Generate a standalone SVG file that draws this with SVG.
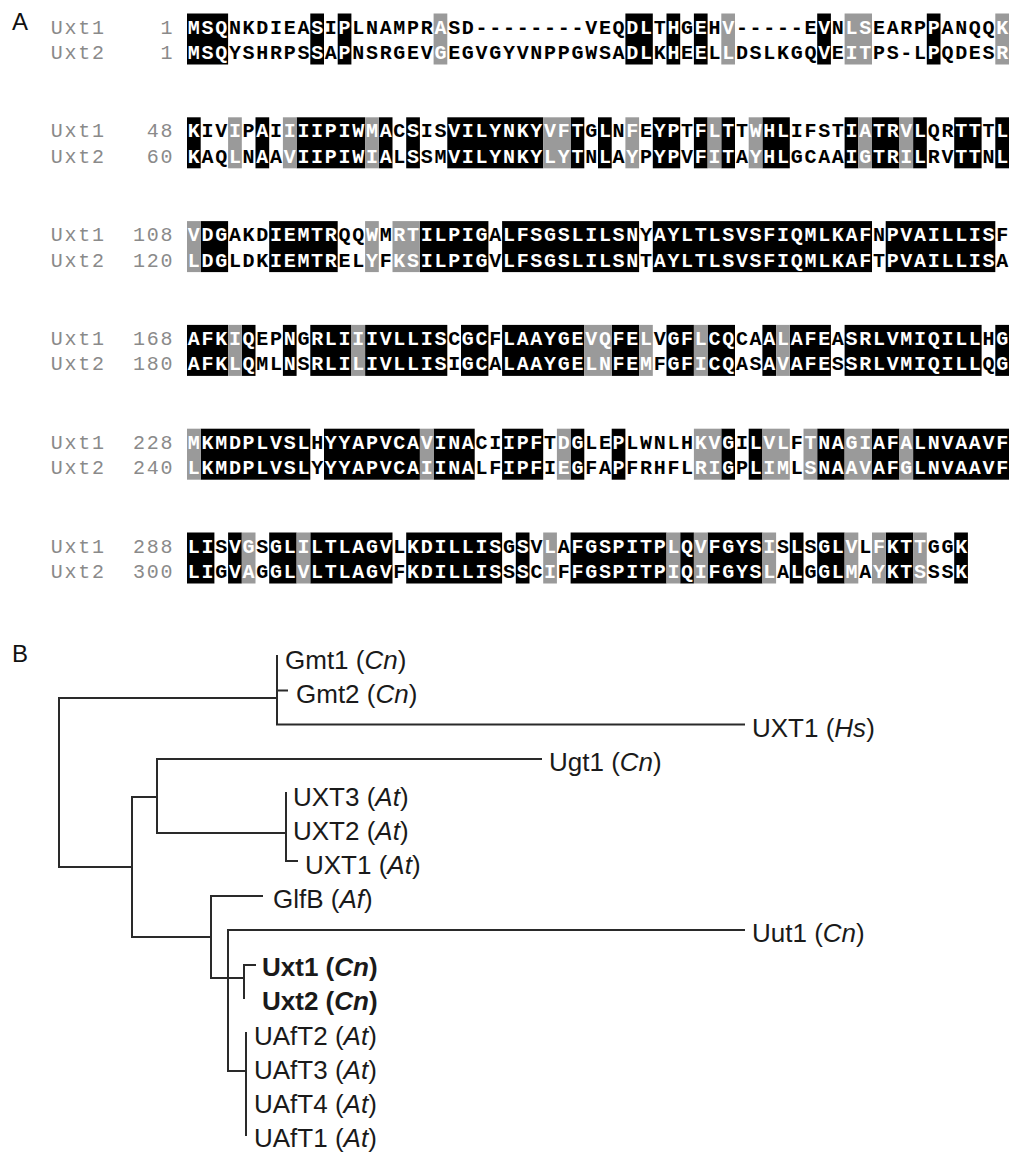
<svg xmlns="http://www.w3.org/2000/svg" width="1012" height="1152" viewBox="0 0 1012 1152">
<style>
.pl{font-family:"Liberation Sans",Arial,sans-serif;font-size:24px;fill:#111}
.sq{font-family:"Liberation Mono","Courier New",monospace;font-size:20px;font-weight:bold;letter-spacing:1.7px;fill:#000}
.lb{font-family:"Liberation Mono","Courier New",monospace;font-size:20px;letter-spacing:1.7px;fill:#8a8a8a}
.w{fill:#fff}
.k{fill:#000}
.g{fill:#9a9a9a}
.tl{font-family:"Liberation Sans",Arial,sans-serif;font-size:26px;fill:#1a1a1a}
.bd{font-weight:bold}
.it{font-style:italic}
.br{fill:none;stroke:#2a2a2a;stroke-width:2;stroke-linecap:square}
</style>
<rect width="1012" height="1152" fill="#fff"/>
<text class="pl" x="12" y="30">A</text>
<text class="pl" x="12" y="662">B</text>

<g id="alignment">
<!-- block 1 -->
<g transform="translate(187,13.5) scale(13.7,1)">
<rect class="k" x="0" width="3" height="51"/><rect class="k" x="9" width="1" height="51"/><rect class="k" x="11" width="1" height="51"/><rect class="k" x="32" width="2" height="51"/><rect class="k" x="35" width="1" height="51"/><rect class="k" x="37" width="1" height="51"/><rect class="k" x="46" width="1" height="51"/><rect class="k" x="54" width="1" height="51"/>
<rect class="g" x="18" width="1" height="51"/><rect class="g" x="39" width="1" height="51"/><rect class="g" x="48" width="2" height="51"/><rect class="g" x="59" width="1" height="51"/>
</g>
<text class="lb" x="50.8" y="33.5">Uxt1</text><text class="lb" x="160.4" y="33.5">1</text>
<text class="lb" x="50.8" y="59">Uxt2</text><text class="lb" x="160.4" y="59">1</text>
<text class="sq" x="187.8" y="33.5"><tspan class="w">MSQ</tspan>NKDIEA<tspan class="w">S</tspan>I<tspan class="w">P</tspan>LNAMPR<tspan class="w">A</tspan>SD--------VEQ<tspan class="w">DL</tspan>T<tspan class="w">H</tspan>G<tspan class="w">E</tspan>H<tspan class="w">V</tspan>-----E<tspan class="w">V</tspan>N<tspan class="w">LS</tspan>EARP<tspan class="w">P</tspan>ANQQ<tspan class="w">K</tspan></text>
<text class="sq" x="187.8" y="59"><tspan class="w">MSQ</tspan>YSHRPS<tspan class="w">S</tspan>A<tspan class="w">P</tspan>NSRGEV<tspan class="w">G</tspan>EGVGYVNPPGWSA<tspan class="w">DL</tspan>K<tspan class="w">H</tspan>E<tspan class="w">E</tspan>L<tspan class="w">L</tspan>DSLKGQ<tspan class="w">V</tspan>E<tspan class="w">IT</tspan>PS-L<tspan class="w">P</tspan>QDES<tspan class="w">R</tspan></text>

<!-- block 2 -->
<g transform="translate(187,117.3) scale(13.7,1)">
<rect class="k" x="0" width="1" height="51"/><rect class="k" x="5" width="1" height="51"/><rect class="k" x="8" width="5" height="51"/><rect class="k" x="14" width="1" height="51"/><rect class="k" x="16" width="1" height="51"/><rect class="k" x="19" width="7" height="51"/><rect class="k" x="28" width="1" height="51"/><rect class="k" x="30" width="1" height="51"/><rect class="k" x="34" width="2" height="51"/><rect class="k" x="37" width="1" height="51"/><rect class="k" x="39" width="1" height="51"/><rect class="k" x="42" width="2" height="51"/><rect class="k" x="48" width="1" height="51"/><rect class="k" x="50" width="2" height="51"/><rect class="k" x="53" width="1" height="51"/><rect class="k" x="56" width="2" height="51"/><rect class="k" x="59" width="1" height="51"/>
<rect class="g" x="3" width="1" height="51"/><rect class="g" x="7" width="1" height="51"/><rect class="g" x="13" width="1" height="51"/><rect class="g" x="26" width="2" height="51"/><rect class="g" x="32" width="1" height="51"/><rect class="g" x="38" width="1" height="51"/><rect class="g" x="41" width="1" height="51"/><rect class="g" x="49" width="1" height="51"/><rect class="g" x="52" width="1" height="51"/>
</g>
<text class="lb" x="50.8" y="137.3">Uxt1</text><text class="lb" x="146.7" y="137.3">48</text>
<text class="lb" x="50.8" y="162.8">Uxt2</text><text class="lb" x="146.7" y="162.8">60</text>
<text class="sq" x="187.8" y="137.3"><tspan class="w">K</tspan>IV<tspan class="w">I</tspan>P<tspan class="w">A</tspan>I<tspan class="w">IIIPIWMA</tspan>C<tspan class="w">S</tspan>IS<tspan class="w">VILYNKYVFT</tspan>G<tspan class="w">L</tspan>N<tspan class="w">F</tspan>E<tspan class="w">YP</tspan>T<tspan class="w">FLT</tspan>T<tspan class="w">WHL</tspan>IFST<tspan class="w">IATRVL</tspan>QR<tspan class="w">TT</tspan>T<tspan class="w">L</tspan></text>
<text class="sq" x="187.8" y="162.8"><tspan class="w">K</tspan>AQ<tspan class="w">L</tspan>N<tspan class="w">A</tspan>A<tspan class="w">VIIPIWIA</tspan>L<tspan class="w">S</tspan>SM<tspan class="w">VILYNKYLYT</tspan>N<tspan class="w">L</tspan>A<tspan class="w">Y</tspan>P<tspan class="w">YP</tspan>V<tspan class="w">FIT</tspan>A<tspan class="w">YHL</tspan>GCAA<tspan class="w">IGTRIL</tspan>RV<tspan class="w">TT</tspan>N<tspan class="w">L</tspan></text>

<!-- block 3 -->
<g transform="translate(187,221.1) scale(13.7,1)">
<rect class="k" x="1" width="2" height="51"/><rect class="k" x="6" width="5" height="51"/><rect class="k" x="17" width="5" height="51"/><rect class="k" x="23" width="10" height="51"/><rect class="k" x="34" width="16" height="51"/><rect class="k" x="51" width="8" height="51"/>
<rect class="g" x="0" width="1" height="51"/><rect class="g" x="13" width="1" height="51"/><rect class="g" x="15" width="2" height="51"/>
</g>
<text class="lb" x="50.8" y="241.1">Uxt1</text><text class="lb" x="133" y="241.1">108</text>
<text class="lb" x="50.8" y="266.6">Uxt2</text><text class="lb" x="133" y="266.6">120</text>
<text class="sq" x="187.8" y="241.1"><tspan class="w">VDG</tspan>AKD<tspan class="w">IEMTR</tspan>QQ<tspan class="w">W</tspan>M<tspan class="w">RTILPIG</tspan>A<tspan class="w">LFSGSLILSN</tspan>Y<tspan class="w">AYLTLSVSFIQMLKAF</tspan>N<tspan class="w">PVAILLIS</tspan>F</text>
<text class="sq" x="187.8" y="266.6"><tspan class="w">LDG</tspan>LDK<tspan class="w">IEMTR</tspan>EL<tspan class="w">Y</tspan>F<tspan class="w">KSILPIG</tspan>V<tspan class="w">LFSGSLILSN</tspan>T<tspan class="w">AYLTLSVSFIQMLKAF</tspan>T<tspan class="w">PVAILLIS</tspan>A</text>

<!-- block 4 -->
<g transform="translate(187,324.9) scale(13.7,1)">
<rect class="k" x="0" width="3" height="51"/><rect class="k" x="4" width="1" height="51"/><rect class="k" x="7" width="1" height="51"/><rect class="k" x="9" width="3" height="51"/><rect class="k" x="13" width="6" height="51"/><rect class="k" x="20" width="2" height="51"/><rect class="k" x="23" width="6" height="51"/><rect class="k" x="31" width="2" height="51"/><rect class="k" x="35" width="2" height="51"/><rect class="k" x="38" width="2" height="51"/><rect class="k" x="42" width="1" height="51"/><rect class="k" x="44" width="3" height="51"/><rect class="k" x="48" width="10" height="51"/><rect class="k" x="59" width="1" height="51"/>
<rect class="g" x="3" width="1" height="51"/><rect class="g" x="12" width="1" height="51"/><rect class="g" x="29" width="2" height="51"/><rect class="g" x="33" width="1" height="51"/><rect class="g" x="37" width="1" height="51"/><rect class="g" x="43" width="1" height="51"/>
</g>
<text class="lb" x="50.8" y="344.9">Uxt1</text><text class="lb" x="133" y="344.9">168</text>
<text class="lb" x="50.8" y="370.4">Uxt2</text><text class="lb" x="133" y="370.4">180</text>
<text class="sq" x="187.8" y="344.9"><tspan class="w">AFKIQ</tspan>EP<tspan class="w">N</tspan>G<tspan class="w">RLIIIVLLIS</tspan>C<tspan class="w">GC</tspan>F<tspan class="w">LAAYGEVQFEL</tspan>V<tspan class="w">GFLCQ</tspan>CA<tspan class="w">ALAFE</tspan>A<tspan class="w">SRLVMIQILL</tspan>H<tspan class="w">G</tspan></text>
<text class="sq" x="187.8" y="370.4"><tspan class="w">AFKLQ</tspan>ML<tspan class="w">N</tspan>S<tspan class="w">RLILIVLLIS</tspan>I<tspan class="w">GC</tspan>A<tspan class="w">LAAYGELNFEM</tspan>F<tspan class="w">GFICQ</tspan>AS<tspan class="w">AVAFE</tspan>S<tspan class="w">SRLVMIQILL</tspan>Q<tspan class="w">G</tspan></text>

<!-- block 5 -->
<g transform="translate(187,428.7) scale(13.7,1)">
<rect class="k" x="1" width="8" height="51"/><rect class="k" x="10" width="7" height="51"/><rect class="k" x="18" width="3" height="51"/><rect class="k" x="23" width="3" height="51"/><rect class="k" x="28" width="1" height="51"/><rect class="k" x="31" width="1" height="51"/><rect class="k" x="39" width="1" height="51"/><rect class="k" x="41" width="1" height="51"/><rect class="k" x="46" width="2" height="51"/><rect class="k" x="50" width="2" height="51"/><rect class="k" x="53" width="7" height="51"/>
<rect class="g" x="0" width="1" height="51"/><rect class="g" x="17" width="1" height="51"/><rect class="g" x="27" width="1" height="51"/><rect class="g" x="37" width="2" height="51"/><rect class="g" x="42" width="2" height="51"/><rect class="g" x="45" width="1" height="51"/><rect class="g" x="48" width="2" height="51"/><rect class="g" x="52" width="1" height="51"/>
</g>
<text class="lb" x="50.8" y="448.7">Uxt1</text><text class="lb" x="133" y="448.7">228</text>
<text class="lb" x="50.8" y="474.2">Uxt2</text><text class="lb" x="133" y="474.2">240</text>
<text class="sq" x="187.8" y="448.7"><tspan class="w">MKMDPLVSL</tspan>H<tspan class="w">YYAPVCAVINA</tspan>CI<tspan class="w">IPF</tspan>T<tspan class="w">DG</tspan>LE<tspan class="w">P</tspan>LWNLH<tspan class="w">KVG</tspan>I<tspan class="w">LVL</tspan>F<tspan class="w">TNAGIAFALNVAAVF</tspan></text>
<text class="sq" x="187.8" y="474.2"><tspan class="w">LKMDPLVSL</tspan>Y<tspan class="w">YYAPVCAIINA</tspan>LF<tspan class="w">IPF</tspan>I<tspan class="w">EG</tspan>FA<tspan class="w">P</tspan>FRHFL<tspan class="w">RIG</tspan>P<tspan class="w">LIM</tspan>L<tspan class="w">SNAAVAFGLNVAAVF</tspan></text>

<!-- block 6 -->
<g transform="translate(187,532.5) scale(13.7,1)">
<rect class="k" x="0" width="2" height="51"/><rect class="k" x="3" width="1" height="51"/><rect class="k" x="6" width="2" height="51"/><rect class="k" x="9" width="6" height="51"/><rect class="k" x="16" width="7" height="51"/><rect class="k" x="24" width="1" height="51"/><rect class="k" x="28" width="7" height="51"/><rect class="k" x="36" width="1" height="51"/><rect class="k" x="38" width="4" height="51"/><rect class="k" x="44" width="1" height="51"/><rect class="k" x="46" width="2" height="51"/><rect class="k" x="51" width="2" height="51"/><rect class="k" x="56" width="1" height="51"/>
<rect class="g" x="4" width="1" height="51"/><rect class="g" x="8" width="1" height="51"/><rect class="g" x="26" width="1" height="51"/><rect class="g" x="35" width="1" height="51"/><rect class="g" x="37" width="1" height="51"/><rect class="g" x="42" width="1" height="51"/><rect class="g" x="48" width="1" height="51"/><rect class="g" x="50" width="1" height="51"/><rect class="g" x="53" width="1" height="51"/>
</g>
<text class="lb" x="50.8" y="552.5">Uxt1</text><text class="lb" x="133" y="552.5">288</text>
<text class="lb" x="50.8" y="578">Uxt2</text><text class="lb" x="133" y="578">300</text>
<text class="sq" x="187.8" y="552.5"><tspan class="w">LI</tspan>S<tspan class="w">VG</tspan>S<tspan class="w">GLILTLAGV</tspan>L<tspan class="w">KDILLIS</tspan>G<tspan class="w">S</tspan>V<tspan class="w">L</tspan>A<tspan class="w">FGSPITPLQVFGYSI</tspan>S<tspan class="w">L</tspan>S<tspan class="w">GLV</tspan>L<tspan class="w">FKTT</tspan>GG<tspan class="w">K</tspan></text>
<text class="sq" x="187.8" y="578"><tspan class="w">LI</tspan>G<tspan class="w">VA</tspan>G<tspan class="w">GLVLTLAGV</tspan>F<tspan class="w">KDILLIS</tspan>S<tspan class="w">S</tspan>C<tspan class="w">I</tspan>F<tspan class="w">FGSPITPIQIFGYSL</tspan>A<tspan class="w">L</tspan>G<tspan class="w">GLM</tspan>A<tspan class="w">YKTS</tspan>SS<tspan class="w">K</tspan></text>
</g>

<g id="connectors">
<path class="br" d="M59,698 H277 M59,698 V867 H132 M277,656 V724.5 H744 M277,690.5 H287 M132,797 V937 M132,797 H157 M157,759 V833 M157,759 H541 M157,833 H286 M286,793 V861 H297 M132,937 H211 M211,896 V978 M211,896 H262 M211,978 H244 M228,930 V1071 M228,930 H744 M244,965 V998 M244,965 H255 M228,1071 H246 M246,1033 V1135"/>
</g>

<g id="n-gmt1"><text class="tl" x="285" y="669">Gmt1 (<tspan class="it">Cn</tspan>)</text></g>
<g id="n-gmt2"><text class="tl" x="296" y="703">Gmt2 (<tspan class="it">Cn</tspan>)</text></g>
<g id="n-uxt1hs"><text class="tl" x="752" y="737">UXT1 (<tspan class="it">Hs</tspan>)</text></g>
<g id="n-ugt1"><text class="tl" x="549" y="771">Ugt1 (<tspan class="it">Cn</tspan>)</text></g>
<g id="n-uxt3"><text class="tl" x="293" y="806">UXT3 (<tspan class="it">At</tspan>)</text></g>
<g id="n-uxt2at"><text class="tl" x="293" y="840">UXT2 (<tspan class="it">At</tspan>)</text></g>
<g id="n-uxt1at"><text class="tl" x="305" y="874">UXT1 (<tspan class="it">At</tspan>)</text></g>
<g id="n-glfb"><text class="tl" x="273" y="908">GlfB (<tspan class="it">Af</tspan>)</text></g>
<g id="n-uut1"><text class="tl" x="752" y="942">Uut1 (<tspan class="it">Cn</tspan>)</text></g>
<g id="n-uxt1cn"><text class="tl bd" x="262" y="976">Uxt1 (<tspan class="it">Cn</tspan>)</text></g>
<g id="n-uxt2cn"><text class="tl bd" x="262" y="1010">Uxt2 (<tspan class="it">Cn</tspan>)</text></g>
<g id="n-uaft2"><text class="tl" x="254" y="1045">UAfT2 (<tspan class="it">At</tspan>)</text></g>
<g id="n-uaft3"><text class="tl" x="254" y="1079">UAfT3 (<tspan class="it">At</tspan>)</text></g>
<g id="n-uaft4"><text class="tl" x="254" y="1113">UAfT4 (<tspan class="it">At</tspan>)</text></g>
<g id="n-uaft1"><text class="tl" x="254" y="1147">UAfT1 (<tspan class="it">At</tspan>)</text></g>
</svg>
